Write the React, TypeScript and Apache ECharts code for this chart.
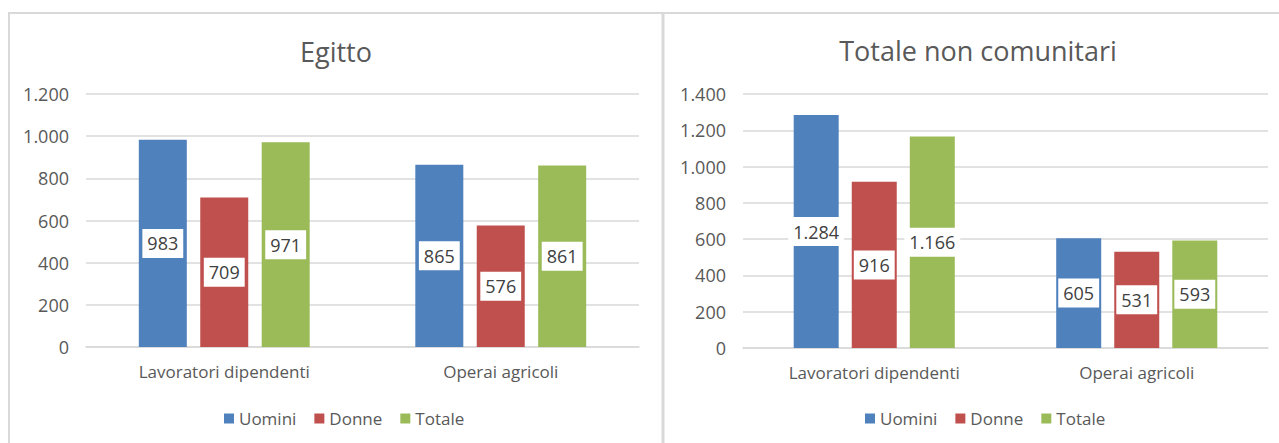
import React, { useEffect, useRef } from "react";
import * as echarts from "echarts";

const categories = ["Lavoratori dipendenti", "Operai agricoli"];
const seriesNames = ["Uomini", "Donne", "Totale"];
const egittoUomini = [983, 865];
const egittoDonne = [709, 576];
const egittoTotale = [971, 861];
const ncUomini = [1284, 605];
const ncDonne = [916, 531];
const ncTotale = [1166, 593];
const leftTicksMax = 1200;
const rightTicksMax = 1400;
const tickStep = 200;
const titles = ["Egitto", "Totale non comunitari"];

const colors = ["#4F81BD", "#C0504D", "#9BBB59"];
const FONT = "'Open Sans', 'Noto Sans', sans-serif";
const fmt = (v: number) => String(v).replace(/\B(?=(\d{3})+(?!\d))/g, ".");

export default function App() {
  const ref = useRef<HTMLDivElement>(null);
  useEffect(() => {
    if (!ref.current) return;
    const chart = echarts.init(ref.current, null, { renderer: "svg" });
    const grids = [
      { left: 86, top: 94, width: 553, height: 253 },
      { left: 743, top: 94, width: 525, height: 254 },
    ];
    const data = [
      [egittoUomini, egittoDonne, egittoTotale],
      [ncUomini, ncDonne, ncTotale],
    ];
    const barW = [48, 45];
    const barGap = ["28%", "29%"];
    const series: any[] = [];
    data.forEach((group, gi) => {
      group.forEach((vals, si) => {
        series.push({
          type: "bar",
          name: seriesNames[si],
          xAxisIndex: gi,
          yAxisIndex: gi,
          data: vals,
          barWidth: barW[gi],
          barGap: barGap[gi],
          itemStyle: { color: colors[si] },
          label: {
            show: true,
            position: "inside",
            formatter: (p: any) => fmt(p.value),
            color: "#404040",
            fontSize: 18,
            fontFamily: FONT,
            backgroundColor: "#ffffff",
            padding: [6, 5, 5, 5],
          },
        });
      });
    });
    const axisLabelStyle = { color: "#595959", fontFamily: FONT };
    chart.setOption({
      animation: false,
      textStyle: { fontFamily: FONT },
      grid: grids,
      xAxis: [0, 1].map((i) => ({
        type: "category",
        gridIndex: i,
        data: categories,
        axisLine: { show: true, lineStyle: { color: "#d9d9d9", width: 1.5 } },
        axisTick: { show: false },
        axisLabel: { ...axisLabelStyle, fontSize: 17, margin: 16 },
      })),
      yAxis: [leftTicksMax, rightTicksMax].map((mx, i) => ({
        type: "value",
        gridIndex: i,
        min: 0,
        max: mx,
        interval: tickStep,
        axisLine: { show: false },
        axisTick: { show: false },
        splitLine: { lineStyle: { color: "#d9d9d9", width: 1.5 } },
        axisLabel: { ...axisLabelStyle, fontSize: 18, margin: 17, formatter: (v: number) => fmt(v) },
      })),
      legend: [219, 860].map((l) => ({
        data: seriesNames,
        left: l,
        top: 405,
        icon: "rect",
        itemWidth: 10,
        itemHeight: 10,
        itemGap: 18,
        textStyle: { color: "#595959", fontSize: 17, fontFamily: FONT },
      })),
      series,
      graphic: [
        { type: "line", shape: { x1: 8, y1: 13, x2: 1279, y2: 13 }, style: { stroke: "#d9d9d9", lineWidth: 2 } },
        { type: "line", shape: { x1: 9, y1: 12, x2: 9, y2: 443 }, style: { stroke: "#d9d9d9", lineWidth: 2 } },
        { type: "line", shape: { x1: 663, y1: 12, x2: 663, y2: 443 }, style: { stroke: "#d9d9d9", lineWidth: 3 } },
        {
          type: "text",
          x: 336,
          y: 51,
          style: { text: titles[0], fontSize: 27, fill: "#595959", fontFamily: FONT, textAlign: "center", textVerticalAlign: "middle" },
        },
        {
          type: "text",
          x: 978,
          y: 50,
          style: { text: titles[1], fontSize: 27, fill: "#595959", fontFamily: FONT, textAlign: "center", textVerticalAlign: "middle" },
        },
      ],
    });
    return () => chart.dispose();
  }, []);
  return <div ref={ref} style={{ position: "fixed", left: 0, top: 0, width: 1279, height: 443, background: "#fff" }} />;
}
